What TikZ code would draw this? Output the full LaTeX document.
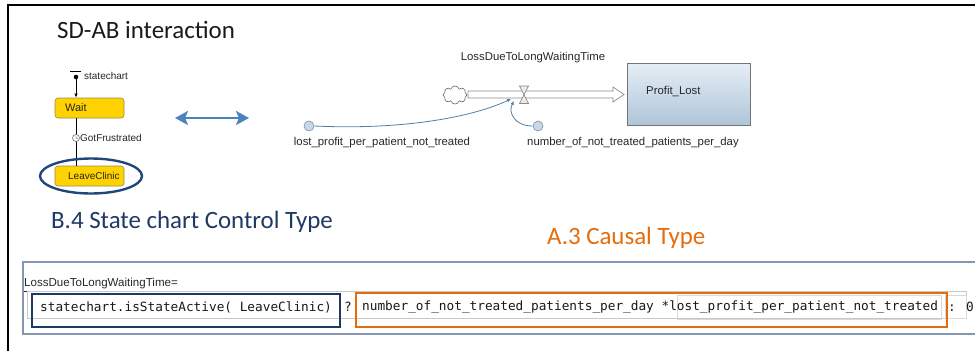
\documentclass[tikz,border=0pt]{standalone}
\usepackage{fontspec}
\setmainfont{Carlito}
\newfontfamily\uifont{Liberation Sans}
\newfontfamily\codefont{DejaVu Sans Mono}
\usetikzlibrary{arrows.meta,shapes.symbols}

\definecolor{navy}{HTML}{1F3864}
\definecolor{ellblue}{HTML}{23467A}
\definecolor{causal}{HTML}{E46C0A}
\definecolor{arrowblue}{HTML}{4F81BD}
\definecolor{stateyellow}{HTML}{FFD200}
\definecolor{stateedge}{HTML}{9A8A50}
\definecolor{linkblue}{HTML}{4F7FA6}
\definecolor{framegray}{HTML}{8496B0}
\definecolor{stocktop}{HTML}{E6EEF6}
\definecolor{stockbot}{HTML}{AFC5DA}
\definecolor{auxfill}{HTML}{C9D8E8}
\definecolor{auxedge}{HTML}{7D8FA3}
\definecolor{pipegray}{HTML}{8A8A8A}

\tikzset{
  title/.style={font=\fontsize{25}{28}\selectfont, inner sep=0, anchor=west},
  ui/.style={font=\uifont\fontsize{10}{12}\selectfont, text=black!85, inner sep=0},
  sdlabel/.style={font=\uifont\fontsize{11.4}{13}\selectfont, text=black!85, inner sep=0},
  code/.style={font=\codefont\fontsize{12.8}{15}\selectfont, text=black!90, inner sep=0, anchor=west},
  statebox/.style={draw=stateedge, fill=stateyellow, rounded corners=3bp, line width=0.6bp,
    minimum width=69bp, minimum height=20bp, inner sep=0},
  auxvar/.style={circle, draw=auxedge, fill=auxfill, minimum size=10bp, inner sep=0, line width=0.6bp},
  link/.style={draw=linkblue, line width=0.8bp, -{Latex[length=4bp,width=3.5bp]}},
}

\begin{document}
\begin{tikzpicture}[x=1bp,y=-1bp]
\useasboundingbox (0,0) rectangle (975,350);

% frame edges
\draw[line width=2.2bp] (8,351) -- (8,5) -- (976,5);

% heading
\node[title, text=black!90] (head) at (57,30) {SD-AB interaction};

% ---- statechart ----
\node[statebox] (wait) at (89.5,108) {};
\node[ui, font=\uifont\fontsize{11}{13}\selectfont, anchor=west] (waitlbl) at (65,107.5) {Wait};
\node[statebox] (leave) at (89.5,176) {};
\node[ui, anchor=west] (leavelbl) at (68,175.5) {LeaveClinic};

\coordinate (startdot) at (76,77);
\draw[line width=1.2bp] (70,71.5) -- (81,71.5);
\fill (startdot) circle (2.3bp);
\draw[line width=0.9bp, -{Latex[length=4bp,width=3.5bp]}] (startdot) -- (76,97.6);
\node[ui, anchor=west] (sclbl) at (84,75.5) {statechart};

\draw[line width=0.9bp] (76,118) -- (76,166);
\node[circle, draw=black!55, fill=white, line width=0.6bp, minimum size=7bp, inner sep=0] (clock) at (76,138) {};
\draw[black!55, line width=0.5bp] (clock.center) -- ++(0,-2.2) (clock.center) -- ++(1.8,0.8);
\node[ui, anchor=west] (gflbl) at (80,138) {GotFrustrated};

\draw[ellblue, line width=2.4bp] (91,176) ellipse (51bp and 17.5bp);

% two-way arrow
\coordinate (dl) at (175,118);
\coordinate (dr) at (249,118);
\draw[arrowblue, line width=2.6bp, {Stealth[length=13bp,width=14bp,inset=3bp]}-{Stealth[length=13bp,width=14bp,inset=3bp]}] (dl) -- (dr);

% ---- stock and flow ----
\node[cloud, cloud puffs=8, draw=black!60, line width=0.6bp, minimum width=24bp, minimum height=18bp, inner sep=0] (src) at (455,95) {};
\draw[pipegray, fill=white, line width=0.7bp]
  (468,91) -- (613,91) -- (613,87) -- (624,94.5) -- (613,102) -- (613,98) -- (468,98) -- cycle;
\draw[pipegray, fill=black!8, line width=0.7bp]
  (519.5,86) -- (528.5,86) -- (519.5,103.5) -- (528.5,103.5) -- cycle;
\coordinate (valve) at (524,95);
\node[sdlabel] (flowlbl) at (533,58) {LossDueToLongWaitingTime};

\node[draw=black!55, line width=0.8bp, top color=stocktop, bottom color=stockbot,
      minimum width=123bp, minimum height=62bp, inner sep=0] (stock) at (688.5,94) {};
\node[sdlabel, anchor=west] (stocklbl) at (646,92) {Profit\_Lost};

\node[auxvar] (lp) at (309,126) {};
\node[sdlabel] (lplbl) at (382,143) {lost\_profit\_per\_patient\_not\_treated};
\node[auxvar] (np) at (538,126) {};
\node[sdlabel] (nplbl) at (633,143) {number\_of\_not\_treated\_patients\_per\_day};

\coordinate (lin1) at (511,99);
\coordinate (lin2) at (514,101);
\draw[link] (lp.east) .. controls (400,130) and (470,118) .. (lin1);
\draw[link] (np.west) .. controls (514,126) and (508,112) .. (lin2);

% ---- type headings ----
\node[title, text=navy] (b4) at (51,222) {B.4 State chart Control Type};
\node[title, text=causal] (a3) at (547,238) {A.3 Causal Type};

% ---- equation panel ----
\draw[framegray, line width=1.3bp] (976,262) -- (23,262) -- (23,334) -- (976,334);
\node[ui, font=\uifont\fontsize{11.6}{13}\selectfont, anchor=west] (eqlbl) at (24,285) {\underline{LossDueToLongWaitingTime}=};

\draw[black!22, line width=0.7bp, fill=white] (27,291) rectangle (966,318);
\draw[black!15, line width=0.6bp] (677,295) rectangle (941,319);
\draw[black!15, line width=0.6bp] (945,295) rectangle (966,318);

\node[code] (cond) at (40,307) {statechart.isStateActive( LeaveClinic)};
\node[code] (qm) at (344,307) {?};
\node[code] (expr) at (362,307) {number\_of\_not\_treated\_patients\_per\_day *lost\_profit\_per\_patient\_not\_treated};
\node[code] (alt) at (948,307) {: 0};

\draw[navy, line width=2bp] (32,294) rectangle (340,327);
\draw[causal, line width=2.5bp] (356,293) rectangle (947,327);
\end{tikzpicture}
\end{document}
